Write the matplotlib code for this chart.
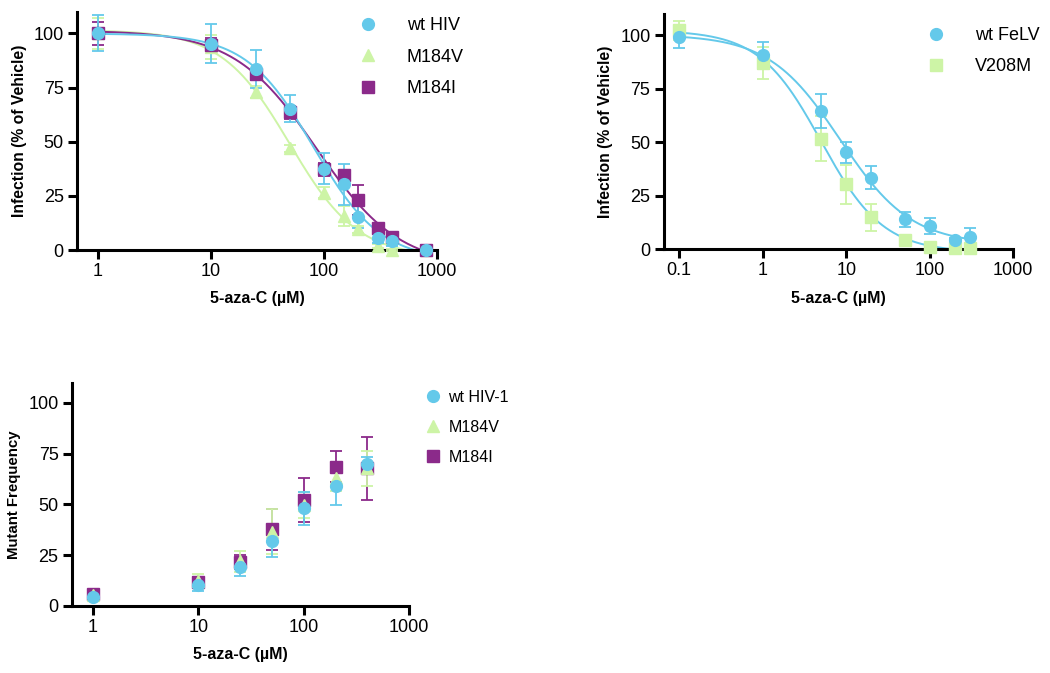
import numpy as np
import matplotlib
matplotlib.use("Agg")
import matplotlib.pyplot as plt
from matplotlib.ticker import FixedLocator, FixedFormatter, NullLocator

plt.rcParams['font.family'] = ['Liberation Sans', 'DejaVu Sans']

# colours
blue = '#64C9EA'
green = '#CDF4A6'
purple = '#8B2A8A'

# panel A: HIV dose response
hiv_x = [1, 10, 25, 50, 100, 150, 200, 300, 400, 800]
wt_hiv_y = [100, 95.2, 83.4, 65.3, 37.6, 30.3, 15.4, 5.4, 4.3, 0]
wt_hiv_err = [8.3, 9.0, 8.8, 6.4, 7.0, 9.4, 5.4, 2.3, 2.5, 0.8]
m184v_y = [100, 93.7, 73.0, 46.9, 26.4, 15.7, 9.5, 1.8, 0, 0]
m184v_err = [7.0, 5.5, 2.8, 1.8, 2.5, 4.5, 1.5, 1.0, 0.5, 0.5]
m184i_y = [100, 94.8, 81.1, 63.7, 37.2, 34.6, 23.0, 10.0, 5.8, 0]
m184i_err = [5.2, 3.0, 2.5, 3.0, 3.0, 2.0, 7.0, 2.2, 1.5, 0.5]

# panel B: FeLV dose response
felv_x = [0.1, 1, 5, 10, 20, 50, 100, 200, 300]
wt_felv_y = [99.1, 90.5, 64.4, 45.2, 33.5, 14.0, 10.9, 4.3, 5.9]
wt_felv_err = [5.0, 6.2, 7.9, 5.0, 5.3, 3.6, 3.6, 1.0, 3.9]
v208m_y = [102.2, 87.0, 51.7, 30.3, 14.9, 4.3, 1.2, 0.5, 0.5]
v208m_err = [4.3, 7.4, 10.5, 9.0, 6.3, 1.0, 1.0, 0.5, 0.5]

# panel C: mutant frequency
mf_x = [1, 10, 25, 50, 100, 200, 400]
mf_wt_y = [4.6, 10.3, 19.0, 32.1, 48.0, 59.0, 69.8]
mf_wt_err = [1.0, 3.0, 4.0, 7.8, 8.2, 9.3, 3.3]
mf_v_y = [5.5, 12.5, 22.0, 36.6, 49.7, 62.8, 67.7]
mf_v_err = [1.0, 3.0, 5.2, 11.0, 6.5, 6.0, 8.5]
mf_i_y = [5.9, 12.0, 21.8, 37.7, 52.1, 68.5, 67.7]
mf_i_err = [1.0, 2.5, 3.5, 10.0, 10.7, 7.7, 15.6]


def fit_logistic(x, y):
    # variable projection: grid over logEC50 and hill, linear LS for bottom/top
    lx = np.log10(np.asarray(x, float))
    y = np.asarray(y, float)
    cs = np.linspace(lx.min(), lx.max(), 400)[:, None, None]
    hs = np.linspace(0.3, 3.0, 271)[None, :, None]
    s = 1.0 / (1.0 + 10 ** (hs * (lx - cs)))
    sm = s.mean(-1, keepdims=True)
    ym = y.mean()
    a = ((s - sm) * (y - ym)).sum(-1, keepdims=True) / ((s - sm) ** 2).sum(-1, keepdims=True)
    b = ym - a * sm
    sse = ((b + a * s - y) ** 2).sum(-1)
    i, j = np.unravel_index(np.argmin(sse), sse.shape)
    c, h = cs[i, 0, 0], hs[0, j, 0]
    bot, amp = b[i, j, 0], a[i, j, 0]
    return lambda xx: bot + amp / (1.0 + 10 ** (h * (np.log10(xx) - c)))


def style_axes(ax, xlim, xticks, xlabels, ylabel, ylabsize=11.3):
    ax.set_xscale('log')
    ax.set_xlim(*xlim)
    ax.set_ylim(0, 110)
    ax.xaxis.set_major_locator(FixedLocator(xticks))
    ax.xaxis.set_major_formatter(FixedFormatter(xlabels))
    ax.xaxis.set_minor_locator(NullLocator())
    ax.set_yticks([0, 25, 50, 75, 100])
    for s in ['top', 'right']:
        ax.spines[s].set_visible(False)
    for s in ['left', 'bottom']:
        ax.spines[s].set_linewidth(2.2)
    ax.tick_params(axis='both', width=2.2, length=6.5, labelsize=13, pad=3)
    ax.set_xlabel('5-aza-C (µM)', fontsize=11.5, fontweight='bold', labelpad=8)
    ax.set_ylabel(ylabel, fontsize=ylabsize, fontweight='bold', labelpad=5)


def draw_series(ax, x, y, err, color, marker, label, ms=8.5):
    ax.errorbar(x, y, yerr=err, fmt='none', ecolor=color, elinewidth=1.3,
                capsize=4, capthick=1.3, clip_on=False, zorder=3)
    ax.plot(x, y, ls='none', marker=marker, color=color, ms=ms,
            label=label, clip_on=False, zorder=4)


fig = plt.figure(figsize=(10.5, 6.73), dpi=100)
ax1 = fig.add_axes([0.0733, 0.6285, 0.343, 0.354])
ax2 = fig.add_axes([0.632, 0.6296, 0.333, 0.350])
ax3 = fig.add_axes([0.0683, 0.0996, 0.3215, 0.332])

# panel A
xx = np.logspace(0, np.log10(800), 300)
for yv, col in [(m184v_y, green), (m184i_y, purple), (wt_hiv_y, blue)]:
    ax1.plot(xx, fit_logistic(hiv_x, yv)(xx), color=col, lw=1.4, zorder=2)
draw_series(ax1, hiv_x, m184v_y, m184v_err, green, '^', 'M184V')
draw_series(ax1, hiv_x, m184i_y, m184i_err, purple, 's', 'M184I')
draw_series(ax1, hiv_x, wt_hiv_y, wt_hiv_err, blue, 'o', 'wt HIV')
style_axes(ax1, (0.65, 1000), [1, 10, 100, 1000], ['1', '10', '100', '1000'],
           'Infection (% of Vehicle)')
h, l = ax1.get_legend_handles_labels()
order = [2, 0, 1]
fig.legend([h[k] for k in order], [l[k] for k in order], loc='upper left',
           bbox_to_anchor=(0.3435, 0.975), frameon=False, fontsize=13,
           handlelength=0.8, handletextpad=1.75, labelspacing=0.82,
           borderpad=0, borderaxespad=0)

# panel B
xx2 = np.logspace(-1, np.log10(300), 300)
for yv in [wt_felv_y, v208m_y]:
    ax2.plot(xx2, fit_logistic(felv_x, yv)(xx2), color=blue, lw=1.4, zorder=2)
draw_series(ax2, felv_x, v208m_y, v208m_err, green, 's', 'V208M')
draw_series(ax2, felv_x, wt_felv_y, wt_felv_err, blue, 'o', 'wt FeLV')
style_axes(ax2, (0.065, 1000), [0.1, 1, 10, 100, 1000],
           ['0.1', '1', '10', '100', '1000'], 'Infection (% of Vehicle)')
h, l = ax2.get_legend_handles_labels()
fig.legend([h[1], h[0]], [l[1], l[0]], loc='upper left',
           bbox_to_anchor=(0.8845, 0.96), frameon=False, fontsize=13,
           handlelength=0.8, handletextpad=1.75, labelspacing=0.78,
           borderpad=0, borderaxespad=0)

# panel C
draw_series(ax3, mf_x, mf_i_y, mf_i_err, purple, 's', 'M184I')
draw_series(ax3, mf_x, mf_v_y, mf_v_err, green, '^', 'M184V')
draw_series(ax3, mf_x, mf_wt_y, mf_wt_err, blue, 'o', 'wt HIV-1')
style_axes(ax3, (0.63, 1000), [1, 10, 100, 1000], ['1', '10', '100', '1000'],
           'Mutant Frequency', ylabsize=10.8)
h, l = ax3.get_legend_handles_labels()
fig.legend([h[2], h[1], h[0]], [l[2], l[1], l[0]], loc='upper left',
           bbox_to_anchor=(0.4065, 0.421), frameon=False, fontsize=11.5,
           handlelength=0.8, handletextpad=0.55, labelspacing=0.95,
           borderpad=0, borderaxespad=0)

fig.savefig('out.png', dpi=100)
